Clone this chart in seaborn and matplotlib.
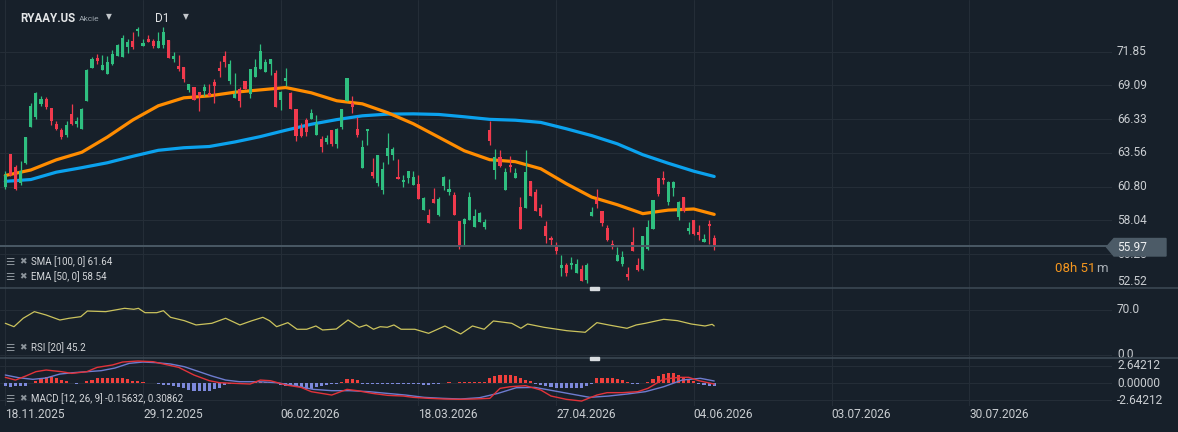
import numpy as np
import pandas as pd
import seaborn as sns
import matplotlib.pyplot as plt
import matplotlib.transforms as mtransforms
from matplotlib.patches import Polygon, Rectangle
from matplotlib.lines import Line2D

# daily candles, first bar = 18.11.2025
opens = [60.78, 63.47, 62.44, 61.08, 62.71, 65.65, 66.54, 67.56, 67.99, 67.25,
         65.95, 65.43, 65.05, 66.74, 65.97, 65.56, 67.85, 70.54, 71.36, 70.38,
         70.05, 70.85, 71.52, 71.44, 72.26, 72.74, 73.54, 72.32, 72.89, 72.72,
         72.13, 72.40, 72.84, 71.25, 70.68, 70.60, 68.70, 68.97, 68.54, 68.64,
         68.45, 69.38, 70.54, 71.50, 69.48, 68.05, 68.80, 69.46, 68.37, 69.81,
         70.41, 70.17, 70.82, 70.11, 67.91, 69.48, 68.45, 67.15, 65.60, 66.27,
         66.38, 65.07, 64.72, 64.48, 65.46, 64.26, 65.65, 67.85, 67.64, 65.54,
         62.33, 65.32, 62.03, 61.11, 60.56, 63.33, 63.42, 61.60, 61.16, 61.48,
         60.91, 61.05, 58.87, 58.50, 59.83, 58.50, 60.89, 60.34, 60.13, 58.00,
         57.73, 58.05, 57.48, 57.89, 57.48, 65.46, 62.13, 63.23, 60.56, 62.60,
         61.48, 59.17, 59.03, 61.30, 60.40, 59.09, 57.62, 56.64, 55.88, 54.14,
         54.36, 54.38, 53.76, 54.11, 53.21, 58.44, 59.74, 58.85, 57.43, 56.13,
         54.71, 54.46, 53.70, 56.32, 54.36, 54.11, 55.72, 57.32, 61.54, 61.54,
         59.52, 60.67, 58.30, 59.99, 57.16, 58.11, 57.13, 56.29, 57.78, 56.64]
highs = [62.11, 63.50, 62.60, 62.93, 64.90, 67.61, 68.54, 68.23, 68.10, 67.25,
         66.14, 65.62, 66.14, 67.58, 66.52, 67.20, 70.44, 71.39, 71.69, 71.58,
         71.50, 71.99, 72.50, 73.21, 72.89, 73.48, 73.89, 72.85, 73.17, 72.89,
         73.43, 73.89, 72.84, 71.80, 71.58, 70.60, 69.19, 68.97, 68.54, 69.19,
         69.19, 69.60, 71.09, 71.91, 71.17, 70.09, 68.97, 69.46, 70.44, 71.25,
         72.48, 71.25, 71.25, 70.33, 68.64, 70.49, 68.53, 67.15, 66.00, 66.41,
         67.15, 66.66, 64.91, 65.03, 65.46, 65.60, 67.15, 69.68, 68.23, 66.49,
         64.64, 65.52, 63.17, 63.39, 62.85, 65.19, 64.05, 63.09, 61.73, 62.09,
         62.11, 61.76, 59.96, 58.98, 60.72, 59.96, 61.70, 61.46, 60.40, 58.00,
         58.27, 60.40, 59.01, 58.76, 58.17, 66.14, 63.91, 63.83, 62.36, 63.33,
         62.33, 59.96, 63.83, 61.30, 60.62, 59.41, 58.00, 56.75, 56.32, 55.18,
         54.58, 55.09, 54.92, 54.38, 54.58, 59.14, 60.64, 58.85, 57.70, 56.48,
         55.85, 55.55, 54.27, 57.51, 55.01, 56.78, 58.11, 59.74, 61.54, 62.11,
         61.30, 61.30, 59.61, 59.99, 57.95, 58.11, 57.70, 56.97, 58.11, 56.86]
lows = [60.59, 61.70, 60.53, 60.91, 62.70, 65.65, 66.33, 67.42, 67.17, 65.87,
        65.46, 64.67, 64.83, 65.81, 65.70, 65.50, 67.85, 70.52, 70.87, 70.38,
        70.05, 70.76, 71.52, 71.44, 71.77, 72.03, 73.13, 72.32, 72.67, 72.13,
        72.13, 72.13, 71.36, 70.98, 70.30, 69.40, 68.58, 67.93, 67.03, 68.26,
        68.23, 67.61, 69.81, 70.63, 69.24, 68.05, 67.28, 68.80, 68.09, 69.81,
        70.41, 70.17, 69.95, 67.28, 67.09, 69.07, 67.15, 64.50, 64.86, 64.91,
        66.38, 65.07, 63.61, 64.29, 64.10, 63.93, 65.56, 67.85, 66.82, 64.83,
        62.33, 64.18, 61.54, 60.83, 60.23, 62.68, 63.01, 61.43, 60.75, 61.11,
        60.91, 59.80, 58.87, 57.84, 59.44, 58.38, 60.56, 60.15, 58.46, 55.72,
        55.93, 58.05, 57.48, 57.89, 57.38, 64.18, 61.46, 62.41, 60.56, 61.97,
        61.48, 57.35, 59.03, 60.01, 58.79, 58.30, 56.21, 55.99, 55.28, 53.48,
        53.54, 54.09, 53.76, 53.07, 52.94, 58.38, 59.03, 57.56, 56.34, 55.74,
        54.71, 54.30, 53.16, 55.55, 53.87, 54.03, 55.66, 57.32, 60.01, 61.00,
        59.33, 60.01, 58.11, 58.71, 56.94, 56.89, 56.42, 56.29, 56.15, 55.60]
closes = [61.78, 61.72, 60.59, 62.11, 64.89, 67.42, 68.45, 67.99, 67.28, 66.14,
          65.56, 64.83, 65.87, 65.97, 66.19, 67.17, 70.36, 71.25, 71.09, 70.76,
          71.01, 71.66, 72.37, 72.94, 72.62, 72.25, 73.70, 72.52, 72.67, 72.34,
          72.72, 73.48, 71.36, 71.50, 70.46, 69.65, 69.19, 67.93, 68.26, 68.97,
          68.23, 69.05, 70.30, 71.03, 70.82, 68.37, 67.80, 68.80, 70.44, 70.60,
          71.91, 71.01, 71.25, 67.28, 68.58, 69.73, 67.15, 64.97, 64.97, 65.24,
          66.82, 65.92, 64.05, 64.75, 64.32, 65.52, 67.15, 69.68, 67.36, 65.05,
          64.05, 65.52, 61.70, 63.39, 62.27, 63.96, 63.88, 61.43, 61.38, 62.09,
          61.62, 59.80, 59.88, 57.84, 59.44, 59.80, 61.62, 60.64, 58.46, 55.93,
          58.19, 59.96, 58.41, 58.66, 57.95, 64.50, 63.20, 62.46, 62.03, 62.38,
          61.95, 57.35, 62.03, 60.07, 58.79, 58.44, 56.75, 56.42, 55.52, 54.44,
          53.76, 54.60, 54.49, 53.07, 54.41, 58.76, 59.36, 57.84, 56.42, 55.88,
          55.23, 55.03, 53.40, 55.55, 54.03, 56.78, 57.51, 59.74, 60.21, 61.32,
          61.21, 61.21, 59.52, 58.85, 57.40, 56.94, 56.83, 56.56, 57.56, 55.97]

# moving averages (bar index -> value)
ma_idx = [0, 5, 10, 15, 20, 25, 30, 35, 40, 45, 50, 55, 60, 65, 70,
          75, 80, 85, 90, 95, 100, 105, 110, 115, 120, 125, 130, 135, 139]
ema50 = [61.72, 62.17, 63.00, 63.62, 64.86, 66.26, 67.42, 68.07, 68.23, 68.53,
         68.72, 68.91, 68.48, 67.83, 67.58, 66.85, 65.95, 64.85, 63.74, 63.01,
         62.85, 62.27, 61.05, 59.95, 59.33, 58.60, 58.89, 58.98, 58.54]
sma100 = [61.24, 61.39, 61.99, 62.36, 62.76, 63.29, 63.78, 63.99, 64.09, 64.46,
          64.90, 65.42, 65.91, 66.29, 66.60, 66.74, 66.76, 66.71, 66.52, 66.31,
          66.24, 66.06, 65.54, 64.98, 64.31, 63.42, 62.72, 62.07, 61.64]

rsi_idx = [0, 1.7, 3.5, 5.7, 8, 10.7, 12.5, 14.8, 16.1, 19.7, 23.4, 25.2, 26.1,
           27.4, 29.7, 31, 32.4, 35.1, 37.4, 40.5, 43.2, 46, 48.2, 50.5, 51.8,
           53.2, 55.4, 57.2, 59.1, 60.9, 62.2, 64.9, 67.2, 69.4, 70.8, 72.2,
           73.5, 74.9, 76.2, 77.6, 80.3, 83, 86.2, 89.3, 91.6, 93.9, 95.7, 99.3,
           101.1, 102.4, 105.6, 110.1, 113.7, 116, 118.3, 121.9, 123.7, 125.5,
           129.1, 131.8, 134.5, 137.2, 138.6, 139]
rsi = [49.3, 44.0, 57.1, 67.4, 62.2, 54.4, 57.1, 59.6, 68.4, 67.4, 72.6, 71.1,
       72.6, 65.8, 65.8, 68.9, 58.6, 53.4, 46.7, 49.3, 57.1, 46.7, 52.9, 58.6,
       53.4, 44.0, 50.3, 40.0, 40.0, 45.1, 38.9, 40.4, 54.4, 43.1, 46.7, 40.0,
       44.0, 43.1, 46.7, 40.0, 40.0, 33.7, 45.1, 32.7, 45.1, 40.0, 52.9, 49.3,
       41.5, 48.2, 43.1, 37.8, 35.3, 50.3, 46.7, 41.5, 46.7, 49.3, 55.5, 53.4,
       48.2, 45.1, 47.7, 45.2]

macd_idx = [0, 2, 4, 6, 8, 11, 13, 16, 18, 21, 23, 26, 29, 31, 34, 37, 40, 42,
            45, 48, 50, 52, 55, 58, 60, 64, 67, 69, 72, 75, 78, 80, 83, 86, 89,
            92, 95, 97, 99, 102, 105, 107, 110, 113, 116, 118, 121, 124, 126,
            129, 132, 134, 136, 139]
macd = [0.86, 0.45, 1.06, 1.72, 1.97, 1.72, 1.46, 1.72, 2.37, 2.73, 3.18, 3.33,
        3.23, 2.88, 2.37, 1.21, 0.35, 0.05, -0.05, -0.15, 0.45, 0.35, -0.30,
        -0.66, -1.31, -1.82, -0.96, -1.16, -1.57, -1.87, -1.97, -2.17, -2.32,
        -2.42, -2.47, -2.42, -2.32, -0.81, -0.56, -0.40, -1.06, -1.97, -2.47,
        -2.73, -1.82, -1.46, -1.46, -1.31, -0.81, 0.56, 0.86, 0.86, 0.35, -0.156]
sig_idx = [0, 2.6, 5.4, 8, 10.7, 13.4, 16.1, 18.8, 21.5, 24.3, 27, 29.7, 32.4,
           35.1, 37.8, 40.5, 43.2, 45.9, 49.6, 53.2, 56.8, 60.4, 64, 67.6, 71.3,
           74.9, 78.5, 82.1, 85.7, 89.3, 93, 96.6, 100.2, 103.8, 107.4, 111,
           114.6, 118.3, 121.9, 125.5, 129.1, 132.7, 136.3, 139]
signal = [1.21, 0.81, 0.56, 0.76, 1.36, 1.57, 1.72, 1.87, 2.27, 2.98, 3.18, 3.08,
          2.88, 2.47, 1.77, 1.06, 0.45, 0.20, 0.20, 0.05, -0.40, -0.96, -1.16,
          -1.16, -1.31, -1.57, -1.82, -2.17, -2.32, -2.42, -2.22, -1.57, -0.71,
          -0.66, -1.16, -1.67, -2.17, -1.97, -1.67, -1.31, -0.56, 0.45, 0.71, 0.309]
hist = [-0.5, -0.6, -0.5, -0.5, -0.4, -0.05, 0.3, 0.6, 0.85, 0.9,
        0.75, 0.5, 0.25, -0.05, -0.1, 0.0, 0.25, 0.5, 0.7, 0.8,
        0.8, 0.8, 0.75, 0.7, 0.55, 0.35, 0.25, 0.2, 0.05, -0.05,
        -0.15, -0.25, -0.35, -0.45, -0.6, -0.8, -1.0, -1.15, -1.25, -1.25,
        -1.15, -0.95, -0.7, -0.3, -0.1, -0.1, -0.1, -0.05, 0.05, 0.15,
        0.2, 0.2, 0.15, 0.05, -0.25, -0.4, -0.5, -0.65, -0.8, -0.9,
        -0.85, -0.65, -0.5, -0.35, -0.2, -0.15, 0.1, 0.6, 0.65, 0.5,
        -0.15, -0.2, -0.2, -0.2, -0.2, -0.2, -0.2, -0.15, -0.2, -0.2,
        -0.2, -0.2, -0.25, -0.25, -0.15, -0.15, -0.05, 0.15, 0.05, 0.1,
        0.15, 0.15, 0.15, 0.15, 0.2, 0.7, 1.1, 1.2, 1.2, 1.2,
        1.1, 0.7, 0.5, 0.25, -0.15, -0.35, -0.5, -0.6, -0.7, -0.7,
        -0.8, -0.8, -0.8, -0.7, -0.5, -0.1, 0.7, 0.8, 0.8, 0.8,
        0.6, 0.4, 0.1, -0.1, -0.1, -0.05, 0.2, 0.6, 1.0, 1.4,
        1.5, 1.45, 1.25, 0.9, 0.6, 0.25, -0.1, -0.25, -0.4, -0.4]

date_labels = ['18.11.2025', '29.12.2025', '06.02.2026', '18.03.2026',
               '27.04.2026', '04.06.2026', '03.07.2026', '30.07.2026']
bars_per_label = 27
price_ticks = [71.85, 69.09, 66.33, 63.56, 60.80, 58.04, 55.28, 52.52]
rsi_ticks = [70.0, 0.0]
macd_ticks = [2.64212, 0.0, -2.64212]
last_price = 55.97

BG = '#17202a'
GRID = '#242d37'
SEP = '#3e4b56'
TXT = '#c9cdd1'
UP = '#2fbf80'
DOWN = '#f03a4d'

sns.set_theme(style='dark')
plt.rcParams['font.family'] = ['Roboto', 'DejaVu Sans']

W, H = 1178, 432
fig = plt.figure(figsize=(W / 100, H / 100), dpi=100, facecolor=BG)


def pane(y0, y1):
    ax = fig.add_axes([0, 1 - y1 / H, 1112 / W, (y1 - y0) / H])
    ax.set_facecolor(BG)
    for s in ax.spines.values():
        s.set_visible(False)
    ax.set_xlim(-1.04, 217.0)
    ax.set_xticks([k * bars_per_label for k in range(len(date_labels))])
    ax.tick_params(left=False, bottom=False, labelleft=False, labelbottom=False)
    ax.grid(True, color=GRID, lw=0.8)
    return ax


ax = pane(0, 288)
ax_rsi = pane(288, 358)
ax_macd = pane(358, 406)
ax.set_ylim(52.56, 76.07)
ax_rsi.set_ylim(-4.7, 104.2)
ax_macd.set_ylim(-3.48, 3.79)
ax.set_yticks(price_ticks)
ax_rsi.set_yticks(rsi_ticks)
ax_macd.set_yticks(macd_ticks)

# price pane
df = pd.DataFrame({'o': opens, 'h': highs, 'l': lows, 'c': closes})
df['i'] = np.arange(len(df))
col = np.where(df.c >= df.o, UP, DOWN)
sns.lineplot(x=ma_idx, y=sma100, ax=ax, color='#0ba2ee', lw=2.3, zorder=2)
sns.lineplot(x=ma_idx, y=ema50, ax=ax, color='#ff8c00', lw=2.3, zorder=2)
ax.vlines(df.i, df.l, df.h, colors=col, lw=0.9, zorder=3)
body = (df.c - df.o).abs().clip(lower=0.07)
ax.bar(df.i, body, bottom=np.minimum(df.o, df.c), width=0.6, color=col,
       linewidth=0, edgecolor='none', zorder=4)
ax.axhline(last_price, color='#4a5965', lw=1.4, zorder=5)

lab_tr = mtransforms.blended_transform_factory(ax.transAxes, ax.transData)
for p in price_ticks:
    va = 'bottom' if p == price_ticks[-1] else 'center'
    ax.text(1117 / 1112, p, f'{p:.2f}', transform=lab_tr, ha='left', va=va,
            color=TXT, fontsize=8.6, clip_on=False)

rt = mtransforms.blended_transform_factory(ax_rsi.transAxes, ax_rsi.transData)
for v in rsi_ticks:
    ax_rsi.text(1117 / 1112, v + (1.5 if v == 0 else 0), f'{v:.1f}', transform=rt,
                ha='left', va='center', color=TXT, fontsize=8.6)
sns.lineplot(x=rsi_idx, y=rsi, ax=ax_rsi, color='#cbc35d', lw=0.9)

mt = mtransforms.blended_transform_factory(ax_macd.transAxes, ax_macd.transData)
for v in macd_ticks:
    ax_macd.text(1117 / 1112, v, f'{v:.5f}', transform=mt, ha='left',
                 va='center', color=TXT, fontsize=8.6)
hist = np.array(hist)
ax_macd.bar(np.arange(len(hist)), hist, width=0.6, linewidth=0, edgecolor='none',
            color=np.where(hist >= 0, '#f0403c', '#7d89db'), zorder=2)
sns.lineplot(x=sig_idx, y=signal, ax=ax_macd, color='#6e7ccf', lw=1.0, zorder=3)
sns.lineplot(x=macd_idx, y=macd, ax=ax_macd, color='#e2333a', lw=1.0, zorder=3)

# date axis
dt = mtransforms.blended_transform_factory(ax.transData, fig.transFigure)
for k, lab in enumerate(date_labels):
    ax.text(k * bars_per_label, 1 - 414 / H, lab, transform=dt, ha='left',
            va='center', color=TXT, fontsize=8.6, clip_on=False)


def ftext(x, y, s, **kw):
    return fig.text(x / W, 1 - y / H, s, va='center', **kw)


# pane separators and handles
for y in (288, 358):
    fig.add_artist(Line2D([0, 1], [1 - y / H] * 2, color=SEP, lw=1.1))
    fig.add_artist(Rectangle((590 / W, 1 - (y + 1.5) / H), 9 / W, 3 / H,
                             color='#d8dcdf', zorder=3))

# price tag
tag = [(1106.5, 247), (1114, 238.5), (1166, 238.5), (1166, 256), (1114, 256)]
fig.add_artist(Polygon([(x / W, 1 - y / H) for x, y in tag], closed=True,
                       color='#4c5b67', zorder=3))
ftext(1117, 247.5, f'{last_price:.2f}', color='#eef0f2', fontsize=8.6, zorder=4)

# session countdown
t1 = ftext(1055, 268, '08h 51', color='#f5971f', fontsize=9.5)
fig.canvas.draw()
bb = t1.get_window_extent()
ftext(bb.x1 + 1, 268, 'm', color='#aab0b6', fontsize=9.5)

# indicator legends
for y, s in ((262, 'SMA [100, 0] 61.64'), (277, 'EMA [50, 0] 58.54'),
             (348, 'RSI [20] 45.2'), (399, 'MACD [12, 26, 9] -0.15632, 0.30862')):
    ftext(5, y, '\u2630', color='#8d959c', fontsize=7.5)
    ftext(19, y, '\u2716', color='#8d959c', fontsize=6.5)
    ftext(31, y, s, color='#d4d7da', fontsize=7)

# header
ftext(20, 18, 'RYAAY.US', color='#e4e6e8', fontsize=8.3, fontweight='bold')
ftext(79, 19, 'Akcie', color='#9aa3ab', fontsize=6)
ftext(106, 16.5, '\u25bc', color='#c3c7cb', fontsize=5.5)
ftext(155, 19, 'D1', color='#e0e2e4', fontsize=8.5)
ftext(183, 16.5, '\u25bc', color='#c3c7cb', fontsize=5.5)

fig.savefig('out.png', dpi=100, facecolor=BG)
